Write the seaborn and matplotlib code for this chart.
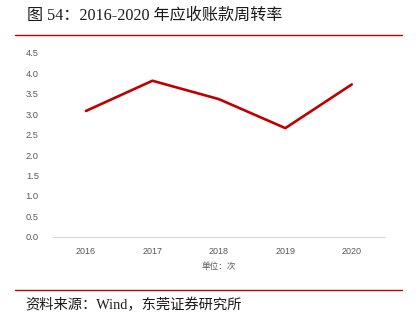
import matplotlib
matplotlib.use("Agg")
import matplotlib.pyplot as plt
import seaborn as sns
import numpy as np
import pandas as pd

years = ["2016", "2017", "2018", "2019", "2020"]
turnover = [3.08, 3.82, 3.37, 2.66, 3.73]
yticks = [0.0, 0.5, 1.0, 1.5, 2.0, 2.5, 3.0, 3.5, 4.0, 4.5]

title = "图 54：2016-2020 年应收账款周转率"
unit = "单位：次"
source = "资料来源：Wind，东莞证券研究所"

sns.set_theme(style="white")
plt.rcParams["font.family"] = ["Liberation Serif", "Noto Sans CJK SC", "DejaVu Sans"]
sans = ["Liberation Sans", "Noto Sans CJK SC", "DejaVu Sans"]

df = pd.DataFrame({"pos": np.arange(len(years)), "value": turnover})

fig = plt.figure(figsize=(4.2, 3.23), dpi=100)
ax = fig.add_axes([0.1255, 0.267, 0.7912, 0.569])
sns.lineplot(data=df, x="pos", y="value", ax=ax, color="#C00000", linewidth=1.9)

ax.set_xlim(-0.5, len(years) - 0.5)
ax.set_ylim(0, 4.5)
ax.set_xticks(np.arange(len(years)))
ax.set_xticklabels(years, family=sans, fontsize=6.5, color="#595959")
ax.set_yticks(yticks)
ax.set_yticklabels([f"{v:.1f}" for v in yticks], family=sans, fontsize=6.7, color="#595959")
ax.tick_params(axis="x", length=0, pad=7.5)
ax.tick_params(axis="y", length=0, pad=10)
ax.set_xlabel("")
ax.set_ylabel("")
for side in ["top", "right", "left"]:
    ax.spines[side].set_visible(False)
ax.spines["bottom"].set_color("#D9D9D9")
ax.spines["bottom"].set_linewidth(0.8)

fig.text(219 / 420, 1 - 266 / 323, unit, ha="center", va="center",
         fontsize=6.2, color="#595959", family=["Noto Sans CJK SC", "DejaVu Sans"])

fig.text(27 / 420, 1 - 16 / 323, title, ha="left", va="center", fontsize=11.6, color="#1a1a1a")
fig.add_artist(plt.Line2D([15 / 420, 402 / 420], [1 - 35 / 323] * 2, color="#C00000", linewidth=1.0))
fig.add_artist(plt.Line2D([15 / 420, 402 / 420], [1 - 290 / 323] * 2, color="#C00000", linewidth=1.0))
fig.text(25 / 420, 1 - 305 / 323, source, ha="left", va="center", fontsize=10.3, color="#1a1a1a")

fig.savefig("out.png", dpi=100)
